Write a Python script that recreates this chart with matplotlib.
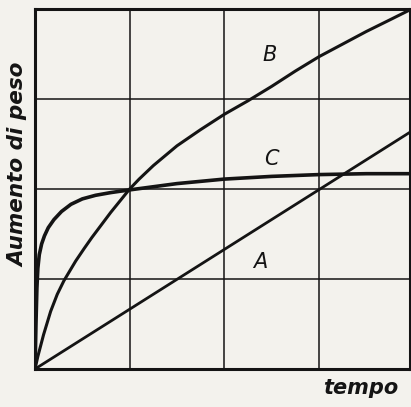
import matplotlib
matplotlib.use("Agg")
import matplotlib.pyplot as plt

# curves (x and y in grid cells)
a_x = [0, 3.96]
a_y = [0, 2.63]

b_x = [0, 0.03, 0.09, 0.165, 0.235, 0.305, 0.43, 0.52, 0.6, 0.8, 0.9, 1.0, 1.1,
       1.25, 1.5, 1.75, 2.0, 2.25, 2.5, 2.75, 3.0, 3.25, 3.5, 3.75, 3.96]
b_y = [0, 0.14, 0.38, 0.64, 0.83, 0.98, 1.20, 1.34, 1.46, 1.74, 1.87, 2.0, 2.11,
       2.26, 2.48, 2.66, 2.83, 2.98, 3.14, 3.31, 3.47, 3.61, 3.75, 3.88, 3.99]

c_x = [0, 0.01, 0.02, 0.03, 0.045, 0.07, 0.1, 0.14, 0.2, 0.28, 0.38, 0.5, 0.64,
       0.8, 1.0, 1.5, 2.0, 2.5, 3.0, 3.5, 3.96]
c_y = [0, 0.5, 0.9, 1.12, 1.27, 1.39, 1.48, 1.57, 1.66, 1.75, 1.83, 1.89, 1.93,
       1.96, 1.99, 2.06, 2.11, 2.14, 2.16, 2.17, 2.17]

curve_labels = ["A", "B", "C"]
label_x = [2.38, 2.48, 2.5]
label_y = [1.19, 3.49, 2.33]

ink = "#141414"
paper = "#f3f2ed"

fig = plt.figure(figsize=(4.11, 4.07), dpi=100, facecolor=paper)
ax = fig.add_axes([0.0852, 0.0934, 0.912, 0.8845])
ax.set_facecolor(paper)

for g in [1, 2, 3]:
    ax.axvline(g, color=ink, lw=1.1)
    ax.axhline(g, color=ink, lw=1.1)

ax.plot(a_x, a_y, color=ink, lw=2.0, solid_capstyle="round", solid_joinstyle="round")
ax.plot(b_x, b_y, color=ink, lw=2.2, solid_capstyle="round", solid_joinstyle="round")
ax.plot(c_x, c_y, color=ink, lw=2.6, solid_capstyle="round", solid_joinstyle="round")

for t, x, y in zip(curve_labels, label_x, label_y):
    ax.text(x, y, t, fontsize=15, style="italic", color=ink, ha="center", va="center")

ax.set_xlim(0, 3.96)
ax.set_ylim(0, 4)
ax.set_xticks([])
ax.set_yticks([])
for s in ax.spines.values():
    s.set_linewidth(2.2)
    s.set_color(ink)

fig.text(0.044, 0.595, "Aumento di peso", rotation=90, fontsize=15.5, fontweight="bold",
         style="italic", color=ink, ha="center", va="center")
fig.text(0.878, 0.047, "tempo", fontsize=15, fontweight="bold", style="italic",
         color=ink, ha="center", va="center")

fig.savefig("out.png", dpi=100, facecolor=paper)
